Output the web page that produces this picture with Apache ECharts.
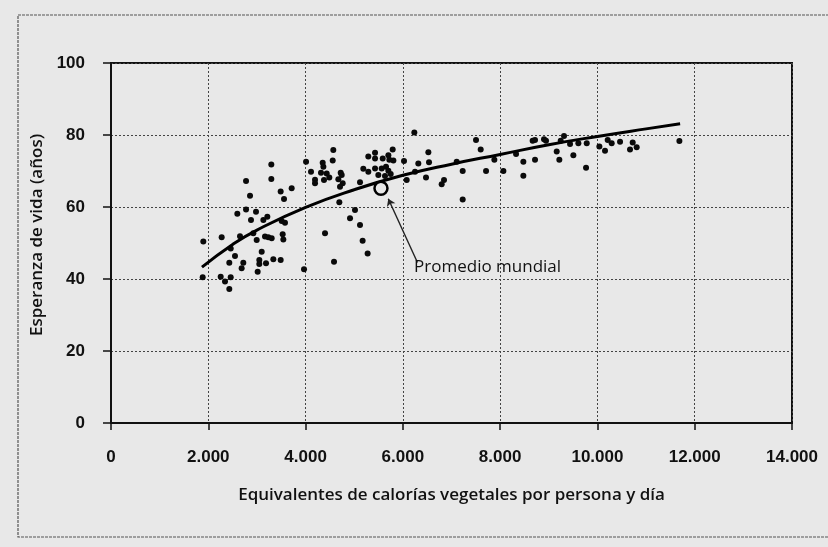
<!DOCTYPE html>
<html lang="es">
<head>
    <meta charset="UTF-8">
    <title>Esperanza de vida y calorías</title>
    <script type="text/javascript" src="https://cdn.jsdelivr.net/npm/echarts@6/dist/echarts.min.js"></script>
    <style>
        html, body { margin: 0; padding: 0; background: #e8e8e8; }
    </style>
</head>
<body>
<div id="main" style="width: 828px;height:547px;"></div>
<script>
    // países: [calorías vegetales equivalentes, esperanza de vida]
    var paises = [
        [4570, 75.8], [4558, 72.9], [4010, 72.6], [4112, 69.8], [4194, 67.6], [4194, 66.6], [4317, 69.5],
        [4352, 72.3], [4366, 71.2], [4379, 67.5], [4434, 69.3], [4488, 68.2],
        [3296, 71.8], [3296, 67.8], [2776, 67.2], [2858, 63.1], [3488, 64.3], [3714, 65.2], [3557, 62.2],
        [2597, 58.1], [2776, 59.3], [2981, 58.7], [2878, 56.4], [3132, 56.4], [3214, 57.3], [3509, 56.1],
        [3577, 55.6], [1898, 50.4], [2275, 51.6], [2652, 51.9], [2926, 52.7], [2995, 50.8], [3166, 51.8],
        [3234, 51.6], [3303, 51.3], [3529, 52.4], [3543, 51.0], [2461, 48.5], [2549, 46.4], [3098, 47.6],
        [2432, 44.5], [2720, 44.5], [2686, 43.0], [3049, 45.3], [3049, 44.2], [3187, 44.4], [3337, 45.5],
        [3488, 45.3], [3015, 42.0], [3968, 42.7], [4400, 52.7], [4585, 44.8], [1885, 40.5], [2255, 40.6],
        [2344, 39.3], [2461, 40.5], [2432, 37.2],
        [6236, 80.7], [6524, 75.2], [6538, 72.4], [6318, 72.1], [7107, 72.6], [6024, 72.8], [6250, 69.8],
        [6476, 68.2], [6846, 67.5], [6798, 66.3], [6079, 67.5],
        [4722, 69.5], [4743, 68.9], [4674, 67.7], [4763, 66.6], [4708, 65.6],
        [5428, 75.1], [5290, 74.0], [5428, 73.5], [5586, 73.5], [5702, 74.4], [5791, 76.0], [5722, 73.1],
        [5805, 72.9], [5187, 70.6], [5290, 69.8], [5428, 70.7], [5565, 70.7], [5654, 71.2], [5702, 70.1],
        [5750, 69.2], [5496, 68.9], [5633, 68.6], [5119, 66.9],
        [4694, 61.3], [5016, 59.2], [4914, 56.9], [5119, 55.0], [5173, 50.6], [5276, 47.1],
        [7504, 78.6], [7600, 76.0], [7230, 70.0], [7230, 62.1], [7710, 70.0], [7881, 73.1], [8067, 70.0],
        [8327, 74.7], [8477, 72.6], [8477, 68.7], [8668, 78.4], [8717, 78.6], [8717, 73.1], [8902, 78.8],
        [8943, 78.4], [9163, 75.4], [9217, 73.1], [9245, 78.4], [9313, 79.7], [9437, 77.5], [9505, 74.4],
        [9608, 77.7], [9780, 77.7], [9766, 70.9], [10040, 76.8], [10156, 75.6], [10211, 78.6], [10293, 77.7],
        [10465, 78.1], [10725, 77.9], [10670, 76.0], [10807, 76.6], [11685, 78.3]
    ];
    var tendencia = [
        [1870, 43.3], [2500, 49.6], [3000, 53.6], [4000, 59.9], [5000, 64.8], [6000, 68.8],
        [7000, 71.9], [8000, 74.6], [9000, 77.3], [10000, 79.6], [11000, 81.7], [11700, 83.1]
    ];
    var promedioMundial = [5550, 65.2];
    var flecha = [[6300, 44.6], [5700, 62.3]];
    var textoPromedio = [6230, 43.4];
    var xTicks = ['0', '2.000', '4.000', '6.000', '8.000', '10.000', '12.000', '14.000'];
    var yTicks = [0, 20, 40, 60, 80, 100];

    var myChart = echarts.init(document.getElementById('main'));
    var option = {
        backgroundColor: '#e8e8e8',
        animation: false,
        grid: {
            left: 111, right: 36, top: 63, bottom: 124,
            show: true, borderColor: '#111', borderWidth: 2
        },
        graphic: [{
            type: 'rect',
            shape: {x: 18, y: 15, width: 840, height: 522},
            style: {fill: 'none', stroke: '#555', lineWidth: 1.2, lineDash: [3, 1]},
            silent: true
        }],
        xAxis: {
            type: 'value', min: 0, max: 14000, interval: 2000,
            name: 'Equivalentes de calorías vegetales por persona y día',
            nameLocation: 'middle', nameGap: 64,
            nameTextStyle: {fontFamily: 'Open Sans', fontWeight: 600, fontSize: 17, color: '#111'},
            axisLine: {show: true, lineStyle: {color: '#111', width: 2}},
            axisTick: {show: true, length: 7, lineStyle: {color: '#111', width: 1.5}},
            axisLabel: {
                margin: 26, fontFamily: 'Liberation Sans', fontWeight: 'bold', fontSize: 17, color: '#111',
                formatter: function (v) { return xTicks[Math.round(v / 2000)]; }
            },
            splitLine: {show: true, lineStyle: {color: '#444', width: 1, type: [2, 2]}}
        },
        yAxis: {
            type: 'value', min: 0, max: 100, interval: 20,
            name: 'Esperanza de vida (años)',
            nameLocation: 'middle', nameGap: 62,
            nameTextStyle: {fontFamily: 'Open Sans', fontWeight: 600, fontSize: 17, color: '#111',
                padding: [0, 0, 0, 16]},
            axisLine: {show: true, lineStyle: {color: '#111', width: 2}},
            axisTick: {show: true, length: 8, lineStyle: {color: '#111', width: 1.5}},
            axisLabel: {
                margin: 26, fontFamily: 'Liberation Sans', fontWeight: 'bold', fontSize: 17, color: '#111',
                formatter: function (v) { return yTicks.indexOf(v) >= 0 ? String(v) : ''; }
            },
            splitLine: {show: true, lineStyle: {color: '#444', width: 1, type: [2, 2]}}
        },
        series: [{
            type: 'scatter',
            data: paises,
            symbolSize: 6,
            itemStyle: {color: '#0a0a0a', opacity: 1},
            z: 3
        }, {
            type: 'line',
            data: tendencia,
            smooth: true,
            showSymbol: false,
            lineStyle: {color: '#000', width: 3},
            z: 4
        }, {
            type: 'lines',
            coordinateSystem: 'cartesian2d',
            data: [{coords: flecha}],
            symbol: ['none', 'arrow'],
            symbolSize: 7,
            lineStyle: {color: '#222', width: 1.4, opacity: 1},
            z: 5
        }, {
            type: 'scatter',
            data: [promedioMundial],
            symbol: 'circle',
            symbolSize: 13,
            itemStyle: {color: '#e8e8e8', borderColor: '#000', borderWidth: 2.5, opacity: 1},
            z: 6
        }, {
            type: 'scatter',
            data: [textoPromedio],
            symbolSize: 0,
            itemStyle: {opacity: 1},
            label: {
                show: true, position: 'right', distance: 0,
                formatter: 'Promedio mundial',
                fontFamily: 'Open Sans', fontSize: 17, color: '#111'
            },
            z: 6
        }]
    };
    myChart.setOption(option);
</script>
</body>
</html>
